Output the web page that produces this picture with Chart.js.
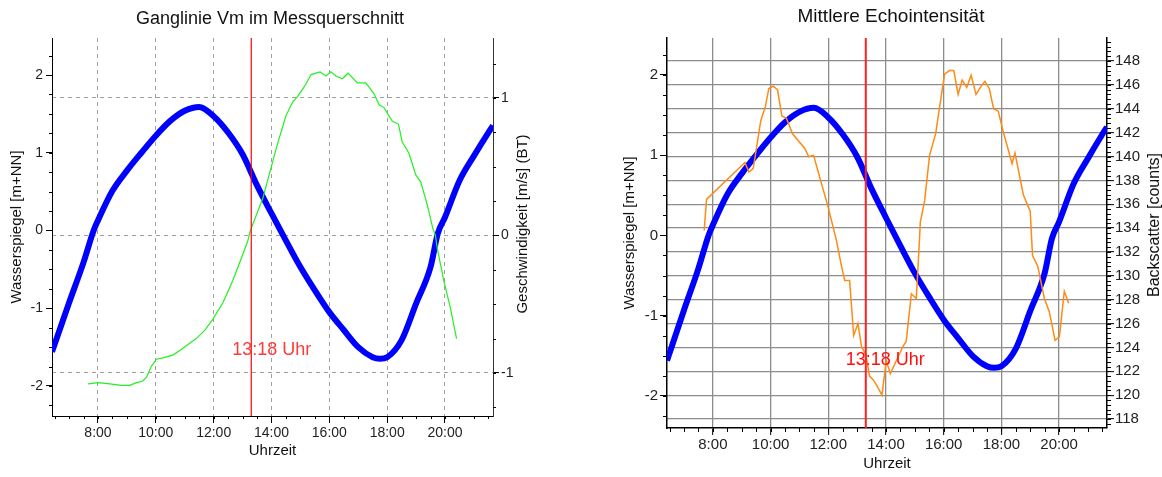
<!DOCTYPE html>
<html>
<head>
<meta charset="utf-8">
<script src="https://cdn.jsdelivr.net/npm/chart.js@4"></script>
<style>
  body { margin: 0; background: #fff; }
  #wrap { position: relative; width: 1162px; height: 477px; }
  canvas { position: absolute; top: 0; }
  #left { left: 0; }
  #right { left: 620px; }
</style>
</head>
<body>
<div id="wrap">
  <canvas id="left" width="540" height="477"></canvas>
  <canvas id="right" width="542" height="477"></canvas>
</div>
<script>
// Data
const timeTicks = [8, 10, 12, 14, 16, 18, 20];
const levelTicks = [-2, -1, 0, 1, 2];
const speedTicks = [-1, 0, 1];
const countTicks = [118, 120, 122, 124, 126, 128, 130, 132, 134, 136, 138, 140, 142, 144, 146, 148];

const markerTime = 13.3;
const markerLabel = '13:18 Uhr';

// Wasserspiegel (blue)
const levelTime = [6.41, 7.0, 7.5, 7.85, 8.0, 8.5, 9.0, 9.5, 10.0, 10.5, 11.0, 11.5, 12.0, 12.5, 13.0, 13.5, 14.0, 14.5,
  15.0, 15.5, 16.0, 16.5, 17.0, 17.5, 17.75, 18.0, 18.5, 19.0, 19.5, 19.75, 20.0, 20.5, 21.0, 21.5, 21.66];
const levelValue = [-1.56, -0.93, -0.41, 0.0, 0.13, 0.51, 0.77, 1.0, 1.22, 1.41, 1.54, 1.59, 1.47, 1.26, 0.98, 0.58, 0.22, -0.13,
  -0.47, -0.77, -1.05, -1.28, -1.5, -1.63, -1.65, -1.63, -1.41, -0.94, -0.47, -0.04, 0.17, 0.64, 0.96, 1.26, 1.35];

// Geschwindigkeit (green)
const speedTime = [7.66, 8.01, 8.41, 8.81, 9.10, 9.33, 9.54, 9.68, 9.85, 10.02, 10.25, 10.59, 10.88, 11.06, 11.40, 11.69,
  11.97, 12.32, 12.66, 12.95, 13.18, 13.26, 13.70, 14.16, 14.27, 14.50, 14.73, 14.90, 15.13, 15.37, 15.68, 15.88, 16.05,
  16.23, 16.45, 16.65, 16.97, 17.26, 17.55, 17.72, 17.89, 18.18, 18.39, 18.52, 18.75, 18.99, 19.16, 19.39, 19.58, 19.67,
  19.73, 19.96, 20.19, 20.40];
const speedValue = [-1.08, -1.07, -1.08, -1.09, -1.09, -1.07, -1.06, -1.03, -0.95, -0.90, -0.89, -0.87, -0.83, -0.80, -0.75, -0.69,
  -0.61, -0.49, -0.33, -0.17, -0.04, 0.03, 0.27, 0.63, 0.71, 0.87, 0.97, 1.01, 1.08, 1.17, 1.19, 1.16, 1.19,
  1.16, 1.14, 1.18, 1.11, 1.11, 1.03, 0.95, 0.93, 0.83, 0.81, 0.68, 0.60, 0.44, 0.39, 0.22, 0.05, 0.0,
  -0.09, -0.33, -0.53, -0.75];

// Backscatter (orange)
const countTime = [7.70, 7.78, 9.11, 9.25, 9.40, 9.66, 9.82, 9.94, 10.09, 10.24, 10.39, 10.55, 10.76, 11.18, 11.32, 11.49,
  11.99, 12.28, 12.45, 12.57, 12.74, 12.88, 13.03, 13.15, 13.30, 13.43, 13.55, 13.66, 13.86, 14.01, 14.15, 14.59, 14.70,
  14.88, 15.05, 15.16, 15.19, 15.34, 15.51, 15.72, 16.03, 16.20, 16.35, 16.50, 16.64, 16.80, 16.95, 17.12, 17.30, 17.43,
  17.58, 17.73, 17.89, 18.05, 18.37, 18.47, 18.76, 19.00, 19.05, 19.08, 19.26, 19.49, 19.66, 19.86, 20.01, 20.18, 20.33];
const countValue = [133.8, 136.4, 139.5, 138.7, 139.0, 143.0, 144.2, 145.7, 145.9, 145.6, 143.4, 143.2, 141.9, 140.7, 140.0, 140.1,
  135.8, 133.0, 130.9, 129.6, 129.6, 125.0, 126.0, 124.1, 123.4, 121.6, 121.3, 120.9, 120.0, 122.9, 121.8, 124.1, 124.5,
  128.5, 128.1, 133.0, 134.5, 136.3, 140.1, 141.9, 146.9, 147.2, 147.2, 145.2, 146.4, 145.8, 146.8, 145.2, 145.9, 146.3,
  145.7, 144.0, 143.8, 142.2, 139.4, 140.3, 136.8, 135.4, 133.0, 131.7, 130.8, 128.1, 127.0, 124.6, 124.9, 128.7, 127.7];

const FONT = "'Liberation Sans', Arial, sans-serif";
Chart.defaults.font.family = FONT;

const toPoints = (xs, ys) => xs.map((x, i) => ({ x, y: ys[i] }));
const fixTicks = list => scale => { scale.ticks = list.map(v => ({ value: v })); };

// small ticks between the labelled ones
const minorTicks = {
  id: 'minorTicks',
  afterDraw(chart, args, opts) {
    const ctx = chart.ctx;
    ctx.save();
    ctx.strokeStyle = opts.color || '#000';
    ctx.lineWidth = 1;
    (opts.axes || []).forEach(a => {
      const s = chart.scales[a.id];
      ctx.beginPath();
      for (let k = Math.ceil(s.min / a.step); k * a.step <= s.max + 1e-9; k++) {
        const p = Math.round(s.getPixelForValue(k * a.step)) + 0.5;
        if (s.isHorizontal()) {
          ctx.moveTo(p, s.top); ctx.lineTo(p, s.top + a.len);
        } else if (s.position === 'left') {
          ctx.moveTo(s.right, p); ctx.lineTo(s.right - a.len, p);
        } else {
          ctx.moveTo(s.left, p); ctx.lineTo(s.left + a.len, p);
        }
      }
      ctx.stroke();
    });
    ctx.restore();
  }
};

// red time marker with its label
const marker = {
  id: 'marker',
  afterDatasetsDraw(chart, args, o) {
    const { ctx, chartArea: area } = chart;
    const px = chart.scales.x.getPixelForValue(markerTime);
    ctx.save();
    ctx.strokeStyle = o.color;
    ctx.lineWidth = o.width;
    ctx.beginPath();
    ctx.moveTo(px, area.top);
    ctx.lineTo(px, area.bottom);
    ctx.stroke();
    ctx.fillStyle = o.textColor;
    ctx.font = o.font;
    ctx.textAlign = 'left';
    ctx.textBaseline = 'middle';
    ctx.fillText(markerLabel, px + o.dx, o.y);
    ctx.restore();
  }
};

// right axis title, reading bottom to top
const sideTitle = {
  id: 'sideTitle',
  afterDraw(chart, args, o) {
    const { ctx, chartArea: area } = chart;
    ctx.save();
    ctx.translate(o.x, (area.top + area.bottom) / 2 + (o.dy || 0));
    ctx.rotate(-Math.PI / 2);
    ctx.font = o.font;
    ctx.fillStyle = o.color;
    ctx.textAlign = 'center';
    ctx.textBaseline = 'middle';
    ctx.fillText(o.text, 0, 0);
    ctx.restore();
  }
};

const timeAxis = (extra) => Object.assign({
  type: 'linear',
  position: 'bottom',
  min: 6.41,
  max: 21.66,
  afterBuildTicks: fixTicks(timeTicks),
  ticks: { callback: v => v + ':00', color: '#222', autoSkip: false, maxRotation: 0 },
}, extra);

// Left chart: Ganglinie Vm im Messquerschnitt
new Chart(document.getElementById('left'), {
  type: 'line',
  data: {
    datasets: [
      {
        label: 'Geschwindigkeit',
        data: toPoints(speedTime, speedValue),
        yAxisID: 'yv',
        borderColor: '#22f022',
        borderWidth: 1.2,
        pointRadius: 0,
        tension: 0
      },
      {
        label: 'Wasserspiegel',
        data: toPoints(levelTime, levelValue),
        yAxisID: 'y',
        borderColor: '#0000ff',
        borderWidth: 6,
        pointRadius: 0,
        cubicInterpolationMode: 'monotone'
      }
    ]
  },
  options: {
    responsive: false,
    animation: false,
    layout: { padding: 0 },
    plugins: {
      legend: { display: false },
      tooltip: { enabled: false },
      title: {
        display: true,
        text: 'Ganglinie Vm im Messquerschnitt',
        color: '#111',
        font: { size: 18, weight: 'normal' },
        padding: { top: 8, bottom: 8.4 }
      },
      minorTicks: {
        axes: [
          { id: 'x', step: 0.5, len: 3 },
          { id: 'y', step: 0.25, len: 3 },
          { id: 'yv', step: 0.25, len: 3 }
        ]
      },
      marker: { color: '#ff0000', width: 1.2, textColor: '#ff3a3a', font: '18px ' + FONT, dx: -19, y: 350 },
      sideTitle: { text: 'Geschwindigkeit [m/s] (BT)', x: 523, dy: -3, color: '#111', font: '15px ' + FONT }
    },
    scales: {
      x: timeAxis({
        ticks: { callback: v => v + ':00', color: '#222', autoSkip: false, maxRotation: 0, font: { size: 14 }, padding: 2 },
        grid: { color: '#a0a0a0', tickColor: '#000', tickLength: 7 },
        border: { color: '#000', dash: [4, 4] },
        title: { display: true, text: 'Uhrzeit', color: '#111', font: { size: 15 }, padding: { top: 0, bottom: 17 } },
        afterFit: s => { s.height = 61; }
      }),
      y: {
        position: 'left',
        min: -2.386,
        max: 2.476,
        afterBuildTicks: fixTicks(levelTicks),
        ticks: { callback: v => String(v), color: '#222', font: { size: 14 }, padding: 3 },
        grid: { drawOnChartArea: false, color: '#000', tickLength: 6 },
        border: { color: '#000' },
        title: { display: true, text: 'Wasserspiegel [m+NN]', color: '#111', font: { size: 15 }, padding: { top: 8, bottom: 0 } },
        afterFit: s => { s.width = 52; }
      },
      yv: {
        position: 'right',
        min: -1.313,
        max: 1.436,
        afterBuildTicks: fixTicks(speedTicks),
        ticks: { callback: v => String(v), color: '#222', font: { size: 14 }, padding: 2 },
        grid: { color: '#a0a0a0', tickColor: '#000', tickLength: 6 },
        border: { color: '#333', dash: [4, 4] },
        afterFit: s => { s.width = 47; }
      }
    }
  },
  plugins: [minorTicks, marker, sideTitle]
});

// Right chart: Mittlere Echointensität
new Chart(document.getElementById('right'), {
  type: 'line',
  data: {
    datasets: [
      {
        label: 'Backscatter',
        data: toPoints(countTime, countValue),
        yAxisID: 'yc',
        borderColor: '#ff8a14',
        borderWidth: 1.5,
        pointRadius: 0,
        tension: 0
      },
      {
        label: 'Wasserspiegel',
        data: toPoints(levelTime, levelValue),
        yAxisID: 'y',
        borderColor: '#0000ff',
        borderWidth: 6,
        pointRadius: 0,
        cubicInterpolationMode: 'monotone'
      }
    ]
  },
  options: {
    responsive: false,
    animation: false,
    layout: { padding: 0 },
    plugins: {
      legend: { display: false },
      tooltip: { enabled: false },
      title: {
        display: true,
        text: 'Mittlere Echointensität',
        color: '#111',
        font: { size: 19, weight: 'normal' },
        padding: { top: 5.6, bottom: 9.6 }
      },
      minorTicks: {
        axes: [
          { id: 'x', step: 0.5, len: 4 },
          { id: 'y', step: 0.25, len: 4 },
          { id: 'yc', step: 0.4, len: 4 }
        ]
      },
      marker: { color: '#ff2020', width: 2, textColor: '#ff1010', font: '18px ' + FONT, dx: -20, y: 360 },
      sideTitle: { text: 'Backscatter [counts]', x: 535, dy: -8, color: '#111', font: '16px ' + FONT }
    },
    scales: {
      x: timeAxis({
        ticks: { callback: v => v + ':00', color: '#222', autoSkip: false, maxRotation: 0, font: { size: 15 }, padding: 1 },
        grid: { color: '#8c8c8c', lineWidth: 1.3, tickColor: '#000', tickWidth: 1, tickLength: 7 },
        border: { color: '#000', width: 1.5 },
        title: { display: true, text: 'Uhrzeit', color: '#111', font: { size: 15 }, padding: { top: 0, bottom: 4 } },
        afterFit: s => { s.height = 49; }
      }),
      y: {
        position: 'left',
        min: -2.40,
        max: 2.46,
        afterBuildTicks: fixTicks(levelTicks),
        ticks: { callback: v => String(v), color: '#222', font: { size: 15 }, padding: 2 },
        grid: { drawOnChartArea: false, color: '#000', tickLength: 7 },
        border: { color: '#000', width: 1.5 },
        title: { display: true, text: 'Wasserspiegel [m+NN]', color: '#111', font: { size: 15 }, padding: { top: 1, bottom: 0 } },
        afterFit: s => { s.width = 47; }
      },
      yc: {
        position: 'right',
        min: 117.25,
        max: 149.93,
        afterBuildTicks: fixTicks(countTicks),
        ticks: { callback: v => String(v), color: '#222', font: { size: 15 }, padding: 1 },
        grid: { color: '#8c8c8c', lineWidth: 1.3, tickColor: '#000', tickWidth: 1, tickLength: 7 },
        border: { color: '#000', width: 1.5 },
        afterFit: s => { s.width = 55; }
      }
    }
  },
  plugins: [minorTicks, marker, sideTitle]
});
</script>
</body>
</html>
